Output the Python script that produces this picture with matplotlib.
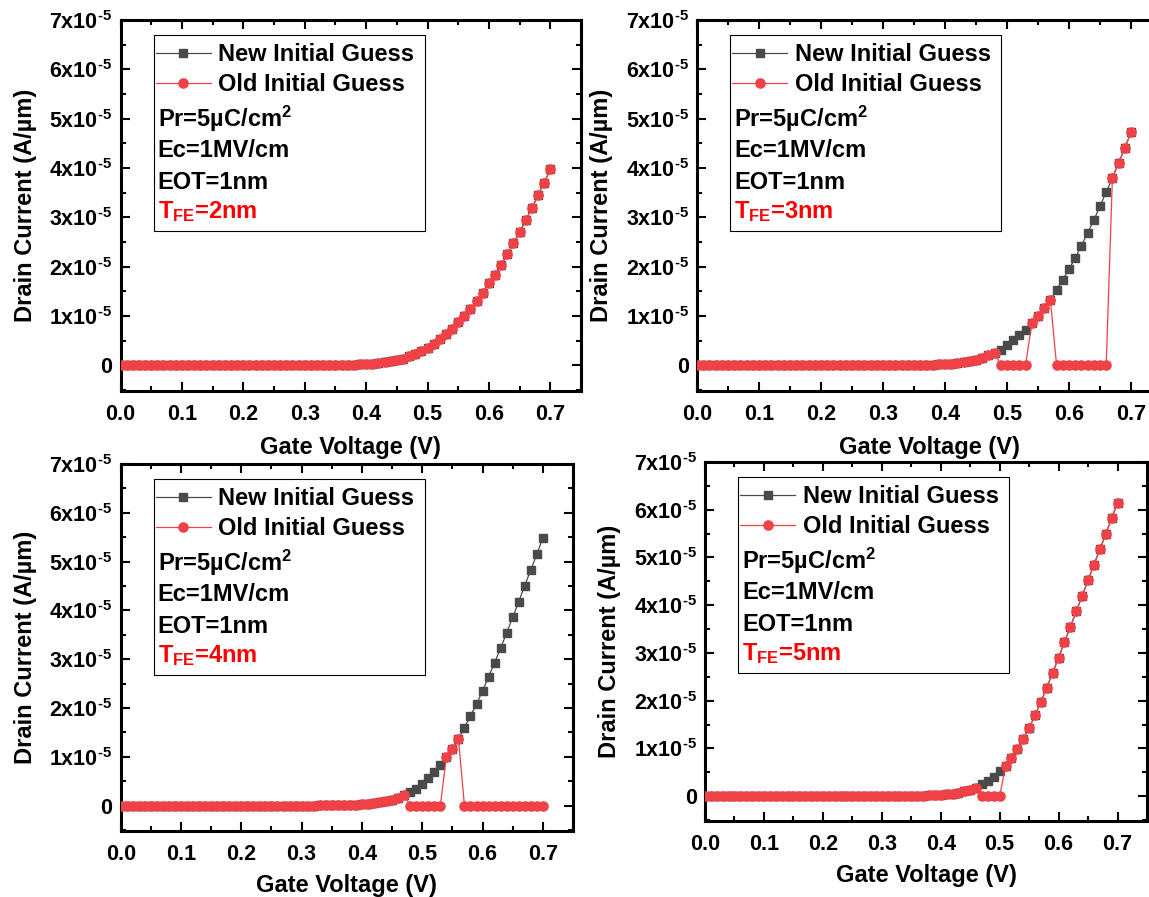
import matplotlib
matplotlib.use("Agg")
import matplotlib.pyplot as plt
from matplotlib.patches import Rectangle
from matplotlib.ticker import MultipleLocator, FuncFormatter

plt.rcParams['font.family'] = 'Liberation Sans'
plt.rcParams['font.weight'] = 'bold'
plt.rcParams['axes.labelweight'] = 'bold'
plt.rcParams['mathtext.fontset'] = 'custom'
plt.rcParams['mathtext.rm'] = 'Liberation Sans:bold'
plt.rcParams['mathtext.bf'] = 'Liberation Sans:bold'
plt.rcParams['mathtext.it'] = 'Liberation Sans:bold:italic'
plt.rcParams['mathtext.default'] = 'regular'

# gate voltage sweep (V)
vg = [0.00, 0.01, 0.02, 0.03, 0.04, 0.05, 0.06, 0.07, 0.08, 0.09,
      0.10, 0.11, 0.12, 0.13, 0.14, 0.15, 0.16, 0.17, 0.18, 0.19,
      0.20, 0.21, 0.22, 0.23, 0.24, 0.25, 0.26, 0.27, 0.28, 0.29,
      0.30, 0.31, 0.32, 0.33, 0.34, 0.35, 0.36, 0.37, 0.38, 0.39,
      0.40, 0.41, 0.42, 0.43, 0.44, 0.45, 0.46, 0.47, 0.48, 0.49,
      0.50, 0.51, 0.52, 0.53, 0.54, 0.55, 0.56, 0.57, 0.58, 0.59,
      0.60, 0.61, 0.62, 0.63, 0.64, 0.65, 0.66, 0.67, 0.68, 0.69,
      0.70]

# drain current in units of 1e-5 A/um
# leakage part 0.00-0.29 V (same for all T_FE)
leak = [1e-6, 1.3e-6, 1.7e-6, 2.2e-6, 2.9e-6, 3.8e-6, 5e-6, 6.5e-6, 8.5e-6, 1.1e-5,
        1.4e-5, 1.9e-5, 2.5e-5, 3.2e-5, 4.2e-5, 5.5e-5, 7.2e-5, 9.4e-5, 1.2e-4, 1.6e-4,
        1.9e-4, 2.3e-4, 2.8e-4, 3.4e-4, 4.1e-4, 5e-4, 5.9e-4, 7e-4, 8e-4, 9e-4]

# 0.30-0.70 V
new_2nm = leak + [0.001, 0.0014, 0.002, 0.0027, 0.0037, 0.005, 0.007, 0.0095, 0.013, 0.018,
                  0.025, 0.033, 0.045, 0.06, 0.078, 0.10, 0.135, 0.18, 0.22, 0.29,
                  0.36, 0.44, 0.53, 0.64, 0.74, 0.88, 1.01, 1.15, 1.30, 1.47,
                  1.66, 1.83, 2.03, 2.25, 2.47, 2.70, 2.94, 3.18, 3.45, 3.70,
                  3.97]
old_2nm = leak + [0.001, 0.0014, 0.002, 0.0027, 0.0037, 0.005, 0.007, 0.0095, 0.013, 0.018,
                  0.025, 0.033, 0.045, 0.06, 0.078, 0.10, 0.135, 0.18, 0.22, 0.29,
                  0.36, 0.44, 0.53, 0.64, 0.74, 0.88, 1.01, 1.15, 1.30, 1.47,
                  1.66, 1.83, 2.03, 2.25, 2.47, 2.70, 2.94, 3.18, 3.45, 3.70,
                  3.97]

new_3nm = leak + [0.001, 0.0015, 0.002, 0.003, 0.004, 0.0055, 0.0075, 0.01, 0.014, 0.019,
                  0.026, 0.035, 0.048, 0.065, 0.087, 0.115, 0.15, 0.20, 0.26, 0.32,
                  0.41, 0.51, 0.61, 0.72, 0.86, 1.00, 1.16, 1.32, 1.53, 1.74,
                  1.95, 2.18, 2.42, 2.69, 2.94, 3.23, 3.51, 3.80, 4.10, 4.41,
                  4.72]
old_3nm = leak + [0.001, 0.0015, 0.002, 0.003, 0.004, 0.0055, 0.0075, 0.01, 0.014, 0.019,
                  0.026, 0.035, 0.048, 0.065, 0.087, 0.115, 0.15, 0.20, 0.26, 0.0,
                  0.0, 0.0, 0.0, 0.0, 0.86, 1.00, 1.16, 1.32, 0.0, 0.0,
                  0.0, 0.0, 0.0, 0.0, 0.0, 0.0, 0.0, 3.80, 4.10, 4.41,
                  4.72]

new_4nm = leak + [0.001, 0.0015, 0.002, 0.003, 0.0042, 0.0058, 0.008, 0.011, 0.015, 0.021,
                  0.029, 0.039, 0.053, 0.07, 0.093, 0.12, 0.16, 0.22, 0.28, 0.35,
                  0.45, 0.56, 0.69, 0.84, 0.99, 1.17, 1.37, 1.60, 1.84, 2.08,
                  2.35, 2.64, 2.93, 3.23, 3.54, 3.86, 4.18, 4.51, 4.83, 5.15,
                  5.48]
old_4nm = leak + [0.001, 0.0015, 0.002, 0.003, 0.0042, 0.0058, 0.008, 0.011, 0.015, 0.021,
                  0.029, 0.039, 0.053, 0.07, 0.093, 0.12, 0.16, 0.22, 0.0, 0.0,
                  0.0, 0.0, 0.0, 0.0, 0.99, 1.17, 1.37, 0.0, 0.0, 0.0,
                  0.0, 0.0, 0.0, 0.0, 0.0, 0.0, 0.0, 0.0, 0.0, 0.0,
                  0.0]

new_5nm = leak + [0.001, 0.0015, 0.0022, 0.0032, 0.0045, 0.0062, 0.0085, 0.012, 0.016, 0.022,
                  0.03, 0.04, 0.055, 0.075, 0.10, 0.135, 0.18, 0.245, 0.32, 0.41,
                  0.52, 0.64, 0.81, 0.99, 1.20, 1.43, 1.69, 1.98, 2.27, 2.59,
                  2.90, 3.23, 3.55, 3.87, 4.20, 4.52, 4.85, 5.17, 5.49, 5.82,
                  6.15]
old_5nm = leak + [0.001, 0.0015, 0.0022, 0.0032, 0.0045, 0.0062, 0.0085, 0.012, 0.016, 0.022,
                  0.03, 0.04, 0.055, 0.075, 0.10, 0.135, 0.18, 0.0, 0.0, 0.0,
                  0.0, 0.64, 0.81, 0.99, 1.20, 1.43, 1.69, 1.98, 2.27, 2.59,
                  2.90, 3.23, 3.55, 3.87, 4.20, 4.52, 4.85, 5.17, 5.49, 5.82,
                  6.15]

t_fe = ["2", "3", "4", "5"]
new_runs = [new_2nm, new_3nm, new_4nm, new_5nm]
old_runs = [old_2nm, old_3nm, old_4nm, old_5nm]
params = ["Pr=5\u00b5C/cm$^2$", "Ec=1MV/cm", "EOT=1nm"]

W, H = 1149, 897
fig = plt.figure(figsize=(W / 100, H / 100), dpi=100)

# axes boxes in pixels: left, top, right, bottom
boxes = [(120.5, 20, 581, 391),
         (697, 20, 1162, 391),
         (120.7, 464, 573, 831),
         (705, 462, 1147, 821)]
xlabel_pads = [8, 8, 6.5, 7]

GRAY = '#4a4a4a'
RED = '#ef4146'
FS_TICK = 15.5
FS = 17


def ylab(v, pos):
    k = int(round(v * 1e5))
    if k == 0:
        return "0"
    return f"{k}x10$^{{\\text{{-5}}}}$"


for i, (l, t, r, b) in enumerate(boxes):
    ax = fig.add_axes([l / W, (H - b) / H, (r - l) / W, (b - t) / H])
    aw, ah = r - l, b - t

    def fx(dx):
        return dx / aw

    def fy(dy):
        return 1 - dy / ah

    yn = [v * 1e-5 for v in new_runs[i]]
    yo = [v * 1e-5 for v in old_runs[i]]
    ax.plot(vg, yn, color=GRAY, lw=0.9, marker='s', ms=5.3, mec=GRAY, mfc=GRAY,
            label='New Initial Guess', zorder=3)
    ax.plot(vg, yo, color=RED, lw=0.9, marker='o', ms=6.6, mec=RED, mfc=RED,
            label='Old Initial Guess', zorder=4)

    ax.set_xlim(0, 0.75)
    ax.set_ylim(-0.52e-5, 7e-5)
    ax.xaxis.set_major_locator(MultipleLocator(0.1))
    ax.xaxis.set_minor_locator(MultipleLocator(0.05))
    ax.xaxis.set_major_formatter(FuncFormatter(lambda v, p: f"{v:.1f}"))
    ax.yaxis.set_major_locator(MultipleLocator(1e-5))
    ax.yaxis.set_minor_locator(MultipleLocator(0.5e-5))
    ax.yaxis.set_major_formatter(FuncFormatter(ylab))
    ax.tick_params(which='both', direction='in', top=True, right=True,
                   width=1.5, labelsize=FS_TICK)
    ax.tick_params(which='major', length=6.5)
    ax.tick_params(which='minor', length=3.6)
    ax.tick_params(axis='x', pad=9)
    ax.tick_params(axis='y', pad=6)
    for sp in ax.spines.values():
        sp.set_linewidth(2.2)

    ax.set_xlabel("Gate Voltage (V)", fontsize=FS, labelpad=xlabel_pads[i])
    ax.set_ylabel("Drain Current (A/\u00b5m)", fontsize=FS, labelpad=9)

    # legend frame
    frame = Rectangle((fx(33), fy(211)), fx(271), 196 / ah,
                      transform=ax.transAxes, fill=False, ec='black',
                      lw=0.8, zorder=5)
    ax.add_patch(frame)

    ax.legend(loc='upper left', bbox_to_anchor=(fx(35), fy(23)),
              bbox_transform=ax.transAxes, frameon=False, fontsize=FS,
              borderpad=0.0, borderaxespad=0, handlelength=2.35,
              handletextpad=0.3, labelspacing=0.3)

    for j, s in enumerate(params):
        ax.text(fx(37), fy(99 + 31.5 * j), s, transform=ax.transAxes,
                fontsize=FS, va='center', ha='left', zorder=6)
    ax.text(fx(37), fy(192), "T$_{FE}$=" + t_fe[i] + "nm",
            transform=ax.transAxes, fontsize=FS, va='center', ha='left',
            color='red', zorder=6)

fig.savefig("out.png", dpi=100)
